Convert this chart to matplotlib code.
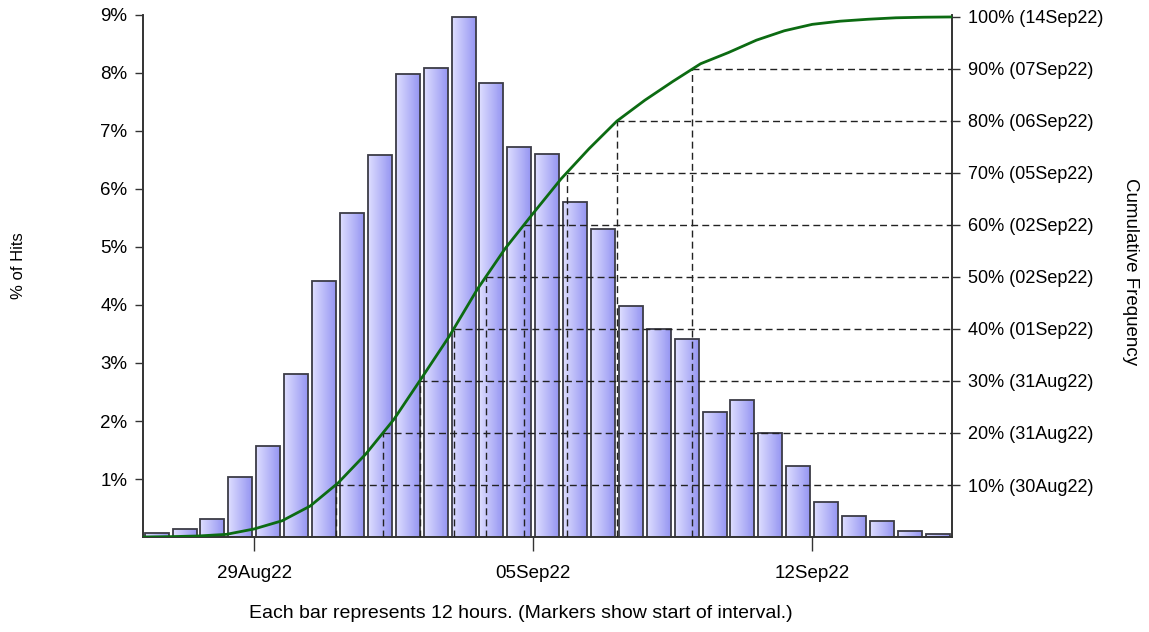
import numpy as np
import matplotlib
matplotlib.use('Agg')
import matplotlib.pyplot as plt

plt.rcParams['font.family'] = ['Liberation Sans', 'DejaVu Sans']

# % of hits per 12h bar
hits = [0.07, 0.13, 0.31, 1.04, 1.57, 2.81, 4.42, 5.59, 6.59, 7.98,
        8.08, 8.97, 7.82, 6.73, 6.60, 5.77, 5.31, 3.99, 3.59, 3.41,
        2.15, 2.37, 1.80, 1.23, 0.61, 0.37, 0.28, 0.11, 0.05]

date_ticks = [4, 14, 24]
date_labels = ['29Aug22', '05Sep22', '12Sep22']

left_ticks = [1, 2, 3, 4, 5, 6, 7, 8, 9]
right_ticks = [10, 20, 30, 40, 50, 60, 70, 80, 90, 100]
right_dates = ['30Aug22', '31Aug22', '31Aug22', '01Sep22', '02Sep22',
               '02Sep22', '05Sep22', '06Sep22', '07Sep22', '14Sep22']

n = len(hits)
edges = np.arange(n + 1)
cum = np.concatenate([[0], np.cumsum(hits)])
cum = cum / cum[-1] * 100

fig = plt.figure(figsize=(11.49, 6.32), dpi=100)
ax = fig.add_axes([0.1242, 0.1503, 0.7041, 0.826])
ax2 = ax.twinx()

# bars with a horizontal gradient fill
grad = np.linspace(0, 1, 64).reshape(1, -1)
cmap = matplotlib.colors.LinearSegmentedColormap.from_list('bar', ['#dedeff', '#9696f2'])
width = 0.86
bars = ax.bar(edges[:-1] + 0.5, hits, width=width, facecolor='none',
              edgecolor='#3c3c46', linewidth=1.3, zorder=3)
for b in bars:
    x0, h = b.get_x(), b.get_height()
    im = ax.imshow(grad, cmap=cmap, aspect='auto', extent=[x0, x0 + width, 0, h],
                   zorder=2, interpolation='bilinear')
    im.set_clip_path(b)

ax.set_xlim(0, n)
ax.set_ylim(0, 9)
ax2.set_ylim(0, 100.38)

# decile guide lines
dash = (0, (5, 3))
for lvl in right_ticks[:-1]:
    xq = np.interp(lvl, cum, edges)
    ax2.plot([xq, xq], [0, lvl], color='#222222', lw=1, ls=dash, zorder=4)
    ax2.plot([xq, n], [lvl, lvl], color='#222222', lw=1, ls=dash, zorder=4)

ax2.plot(edges, cum, color='#0c6b12', lw=2, zorder=5)

ax.set_xticks(date_ticks)
ax.set_xticklabels(date_labels, fontsize=13.5)
ax.tick_params(axis='x', length=10, width=1, pad=10, color='#333333')
ax.set_yticks(left_ticks)
ax.set_yticklabels([f'{t}%' for t in left_ticks], fontsize=13.5)
ax.tick_params(axis='y', length=6, width=1, pad=5, color='#333333')

ax2.set_yticks(right_ticks)
ax2.set_yticklabels([f'{t}% ({d})' for t, d in zip(right_ticks, right_dates)], fontsize=13)
ax2.tick_params(axis='y', length=6, width=1, pad=6, color='#333333')

for a in (ax, ax2):
    a.spines['top'].set_visible(False)
    for s in ('left', 'right', 'bottom'):
        a.spines[s].set_color('#333333')
        a.spines[s].set_linewidth(1.2)
# keep curve and guides above bars
ax2.set_zorder(ax.get_zorder() + 1)
ax2.patch.set_visible(False)

fig.text(0.016, 0.58, '% of Hits', rotation=90, fontsize=12, ha='center', va='center')
fig.text(0.984, 0.57, 'Cumulative Frequency', rotation=270, fontsize=13.5,
         ha='center', va='center')
fig.text(0.453, 0.03, 'Each bar represents 12 hours. (Markers show start of interval.)',
         fontsize=14, ha='center', va='center')

fig.savefig('out.png', dpi=100)
